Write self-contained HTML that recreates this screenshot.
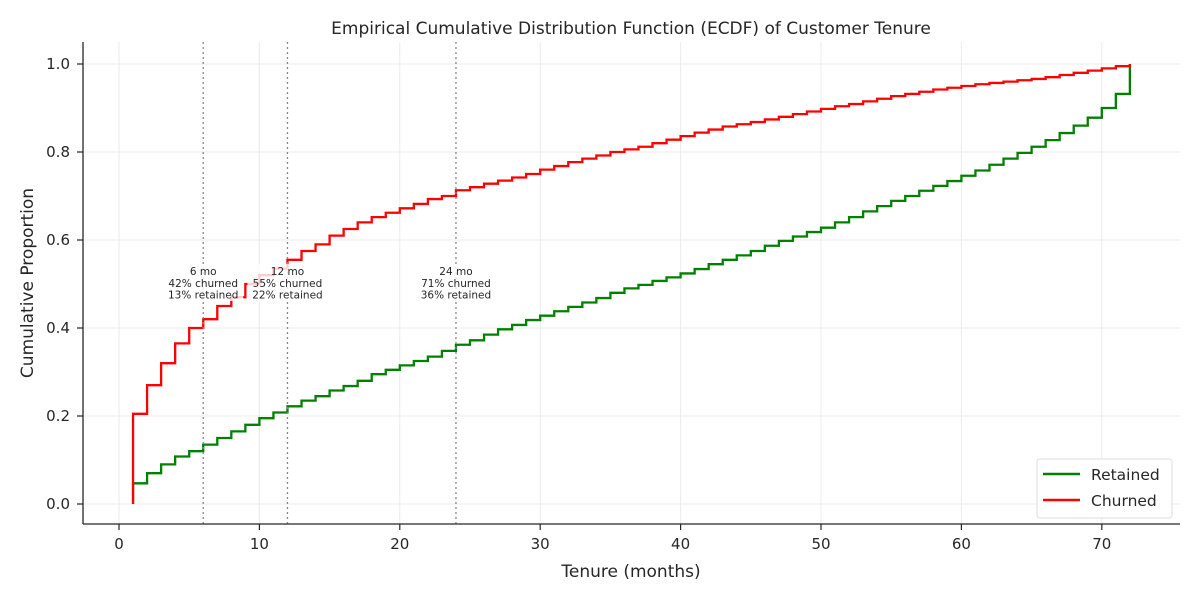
<!DOCTYPE html>
<html><head><meta charset="utf-8"><style>
body{margin:0;background:#fff}
svg text{font-family:"DejaVu Sans","Liberation Sans",sans-serif;fill:#262626}
</style></head><body>
<svg id="chart" width="1200" height="600" viewBox="0 0 1200 600" xmlns="http://www.w3.org/2000/svg">
<text x="631" y="34" text-anchor="middle" font-size="17">Empirical Cumulative Distribution Function (ECDF) of Customer Tenure</text>
<g id="grid"></g><g id="ticks"></g><g id="marks"></g><g id="annots"></g>
<line x1="83" y1="42" x2="83" y2="524" stroke="#262626" stroke-width="1.3"/>
<line x1="83" y1="524" x2="1180" y2="524" stroke="#262626" stroke-width="1.3"/>
<text x="631" y="577" text-anchor="middle" font-size="17">Tenure (months)</text>
<text transform="translate(33,283) rotate(-90)" text-anchor="middle" font-size="17">Cumulative Proportion</text>
<g>
<rect x="1037" y="459" width="135" height="59" rx="3" fill="#fff" fill-opacity="0.85" stroke="#ddd"/>
<line x1="1043" y1="474" x2="1080" y2="474" stroke="#008000" stroke-width="2.5"/>
<text x="1091" y="480" font-size="15.5">Retained</text>
<line x1="1043" y1="500" x2="1080" y2="500" stroke="#ff0000" stroke-width="2.5"/>
<text x="1091" y="506" font-size="15.5">Churned</text>
</g>
</svg>
<script>
const months=[];for(let m=1;m<=72;m++)months.push(m);
const churned=[.205,.27,.32,.365,.40,.42,.45,.47,.50,.52,.535,.555,.575,.59,.61,.625,.64,.652,.662,.672,.682,.693,.70,.713,
.72,.728,.735,.742,.75,.76,.768,.777,.785,.792,.80,.806,.812,.82,.828,.836,.844,.851,.858,.863,.868,.874,.88,.886,.892,.898,.904,.909,.915,.921,.927,.932,.937,.942,.946,.95,.954,.957,.96,.963,.966,.97,.975,.98,.985,.99,.995,1.0];
const retained=[.047,.07,.09,.108,.12,.135,.15,.165,.18,.195,.208,.222,.235,.245,.258,.268,.28,.295,.305,.315,.325,.335,.348,.362,
.372,.385,.397,.407,.418,.428,.438,.448,.458,.468,.48,.49,.498,.507,.515,.524,.534,.545,.555,.565,.575,.587,.598,.608,.618,.628,.64,.652,.665,.677,.689,.70,.712,.723,.734,.746,.758,.771,.785,.798,.812,.827,.843,.86,.878,.90,.932,1.0];
const xTicks=[0,10,20,30,40,50,60,70];
const yTicks=[0,0.2,0.4,0.6,0.8,1.0];
const markers=[6,12,24];
const markerLabels=[["6 mo","42% churned","13% retained"],["12 mo","55% churned","22% retained"],["24 mo","71% churned","36% retained"]];
const X=v=>119+v*14.04, Y=v=>504-v*440;
const NS="http://www.w3.org/2000/svg";
function mk(t,a,p){const e=document.createElementNS(NS,t);for(const k in a)e.setAttribute(k,a[k]);p.appendChild(e);return e;}
const grid=document.getElementById('grid'),ticks=document.getElementById('ticks'),marks=document.getElementById('marks'),ann=document.getElementById('annots');
xTicks.forEach(t=>{
 const g=mk('line',{x1:X(t),x2:X(t),y1:42,y2:524,stroke:'#ebebeb','stroke-width':1},grid);
 
 
 mk('line',{x1:X(t),x2:X(t),y1:524,y2:530,stroke:'#262626','stroke-width':1.2},ticks);
 const l=mk('text',{x:X(t),y:549,'text-anchor':'middle','font-size':15},ticks);l.textContent=t;
 
 
});
yTicks.forEach(t=>{
 const g=mk('line',{x1:83,x2:1180,y1:Y(t),y2:Y(t),stroke:'#ebebeb','stroke-width':1},grid);
 
 
 mk('line',{x1:77,x2:83,y1:Y(t),y2:Y(t),stroke:'#262626','stroke-width':1.2},ticks);
 const l=mk('text',{x:70,y:Y(t)+5,'text-anchor':'end','font-size':15},ticks);l.textContent=t.toFixed(1);
 
 
});
function stepPath(vals){let d=`M${X(months[0])},${Y(0)}`;vals.forEach((v,i)=>{d+=` V${Y(v)}`;if(i<vals.length-1)d+=` H${X(months[i+1])}`;});return d;}
const pr=mk('path',{d:stepPath(retained),fill:'none',stroke:'#008000','stroke-width':2.3},marks);


const pc=mk('path',{d:stepPath(churned),fill:'none',stroke:'#ff0000','stroke-width':2.3},marks);


markers.forEach((m,i)=>{
 const l=mk('line',{x1:X(m),x2:X(m),y1:42,y2:524,stroke:'#888','stroke-width':1.3,'stroke-dasharray':'2,3'},ann);
 
 
 mk('rect',{x:X(m)-40,y:264,width:80,height:37,fill:'#fff','fill-opacity':0.8},ann);
 markerLabels[i].forEach((s,j)=>{
  const t=mk('text',{x:X(m),y:275+j*11.8,'text-anchor':'middle','font-size':10.5},ann);t.textContent=s;
  
  
 });
});
</script>
</body></html>
